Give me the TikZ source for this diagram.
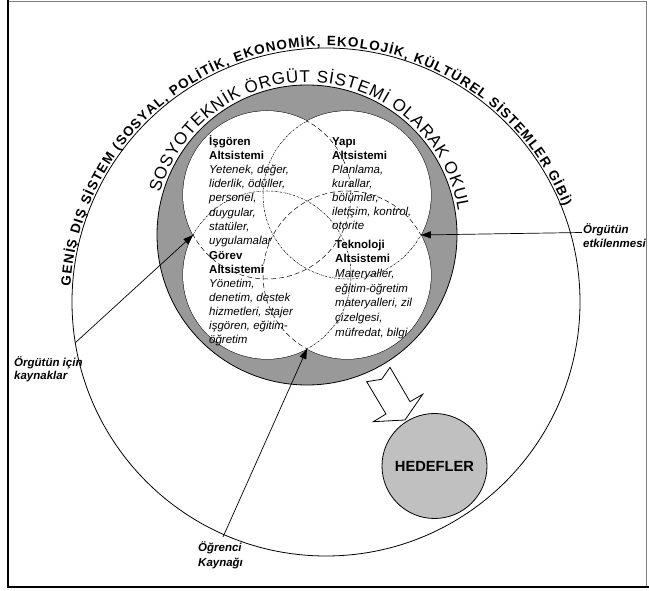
\documentclass[tikz,border=0pt]{standalone}
\usepackage{fontspec}
\setmainfont{Liberation Sans}
\usetikzlibrary{decorations.text,arrows.meta,calc}
\definecolor{bandgray}{RGB}{153,153,153}
\definecolor{goalgray}{RGB}{192,192,192}
\newcommand\topline{\rule{0pt}{12pt}}
\begin{document}
\begin{tikzpicture}[x=1pt,y=1pt,
  blk/.style={font=\fontsize{11.5}{14.2}\selectfont, align=left, inner sep=0pt, anchor=north west},
  lbl/.style={font=\fontsize{11.5}{13.5}\selectfont\bfseries\itshape, align=left, inner sep=0pt, anchor=north west},
  arr/.style={line width=0.7pt, -{Triangle[length=10pt,width=7pt]}},
  longdash/.style={line width=0.5pt, dash pattern=on 5pt off 3pt},
  finedash/.style={line width=0.5pt, dash pattern=on 2pt off 1pt on 0.5pt off 1pt},
  sub/.style={line width=1pt}]
\useasboundingbox (0,0) rectangle (649,591);
% frame
\draw[gray, line width=0.6pt] (8,590) -- (646,590) -- (646,4);
\draw[line width=2pt] (8,591) -- (8,3.5);
\draw[line width=2pt] (7,3.5) -- (649,3.5);
% centers
\coordinate (oc) at (326,289);
\coordinate (og) at (307,356);
\coordinate (cTL) at (267,396);
\coordinate (cTR) at (347,396);
\coordinate (cBL) at (267,316);
\coordinate (cBR) at (347,316);
\coordinate (nL) at (193.1,356);
\coordinate (nR) at (420.9,356);
\coordinate (nB) at (307,242.1);
% outer system circle
\node[circle, draw, line width=0.8pt, minimum size=508pt, inner sep=0pt] (outer) at (oc) {};
% organisation disk
\node[circle, draw, line width=0.8pt, fill=bandgray, minimum size=300pt, inner sep=0pt] (org) at (og) {};
% four subsystem circles
\foreach \c in {cTL,cTR,cBL,cBR} \draw[sub, fill=white] (\c) circle (84);
\foreach \c in {cTL,cTR,cBL,cBR} \fill[white] (\c) circle (84);
% inner dashed arcs
\begin{scope}
  \clip (cTR) circle (84) (cBL) circle (84) (cBR) circle (84);
  \draw[longdash] (cTL) circle (84);
\end{scope}
\begin{scope}
  \clip (cTL) circle (84) (cBL) circle (84) (cBR) circle (84);
  \draw[finedash] (cTR) circle (84);
\end{scope}
\begin{scope}
  \clip (cTL) circle (84) (cTR) circle (84) (cBR) circle (84);
  \draw[finedash] (cBL) circle (84);
\end{scope}
\begin{scope}
  \clip (cTL) circle (84) (cTR) circle (84) (cBL) circle (84);
  \draw[longdash] (cBR) circle (84);
\end{scope}
% curved texts
\path[decorate, decoration={text along path,
  text={|\fontsize{13.5}{15}\selectfont\bfseries|GENİŞ DIŞ SİSTEM (SOSYAL, POLİTİK, EKONOMİK, EKOLOJİK, KÜLTÜREL SİSTEMLER GİBİ)},
  text align=fit to path}]
  ($(oc)+(176.5:256)$) arc[start angle=176.5, end angle=22, radius=256];
\path[decorate, decoration={text along path,
  text={|\fontsize{17}{19}\selectfont|SOSYOTEKNİK ÖRGÜT SİSTEMİ OLARAK OKUL},
  text align=fit to path}]
  ($(og)+(164:153)$) arc[start angle=164, end angle=9, radius=153];
% subsystem texts
\node[blk] (isg) at (209,458) {\topline\textbf{İşgören}\\\textbf{Altsistemi}\\\textit{Yetenek, değer,}\\\textit{liderlik, ödüller,}\\\textit{personel,}\\\textit{duygular,}\\\textit{statüler,}\\\textit{uygulamalar}};
\node[blk, font=\fontsize{11.5}{14}\selectfont] (gor) at (209,344) {\topline\textbf{Görev}\\\textbf{Altsistemi}\\\textit{Yönetim,}\\\textit{denetim, destek}\\\textit{hizmetleri, stajer}\\\textit{işgören, eğitim-}\\\textit{öğretim}};
\node[blk, font=\fontsize{11.5}{14}\selectfont] (yap) at (332,458) {\topline\textbf{Yapı}\\\textbf{Altsistemi}\\\textit{Planlama,}\\\textit{kurallar,}\\\textit{bölümler,}\\\textit{iletişim, kontrol,}\\\textit{otorite}};
\node[blk, font=\fontsize{11.5}{14.7}\selectfont] (tek) at (335,355) {\topline\textbf{Teknoloji}\\\textbf{Altsistemi}\\\textit{Materyaller,}\\\textit{eğitim-öğretim}\\\textit{materyalleri, zil}\\\textit{çizelgesi,}\\\textit{müfredat, bilgi}};
% labels
\node[lbl, font=\fontsize{11.5}{13}\selectfont\bfseries\itshape] (l1) at (14,237) {\topline Örgütün için\\kaynaklar};
\node[lbl, font=\fontsize{11.5}{14}\selectfont\bfseries\itshape] (l2) at (583,370) {\topline Örgütün\\etkilenmesi};
\node[lbl, font=\fontsize{11.5}{15}\selectfont\bfseries\itshape] (l3) at (198,51.3) {\topline Öğrenci\\Kaynağı};
% arrows
\coordinate (s1) at (75,248);
\coordinate (s2) at (582,358.5);
\coordinate (s3) at (223,54);
\draw[arr] (s1) -- (nL);
\draw[arr] (s2) -- (nR);
\draw[arr] (s3) -- (nB);
% goals
\node[circle, draw, line width=0.8pt, fill=goalgray, minimum size=105pt, inner sep=0pt, font=\fontsize{14.7}{16}\selectfont\bfseries] (goal) at (434.5,125) {HEDEFLER};
% hollow block arrow
\draw[fill=white, line width=0.8pt, line join=miter] (366.7,209.3) -- (381.7,211.7) -- (390,223.7) -- (410,189.3) -- (422.7,196.7) -- (405,171) -- (373.3,169.3) -- (386,177) -- cycle;
\end{tikzpicture}
\end{document}
